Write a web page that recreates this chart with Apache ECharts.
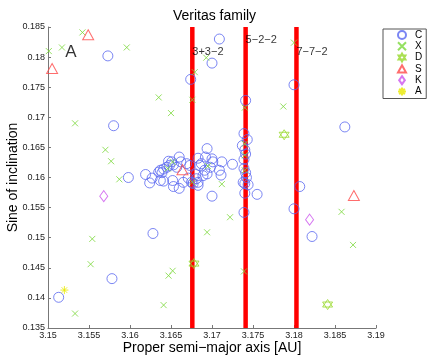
<!DOCTYPE html>
<html>
<head>
<meta charset="utf-8">
<script src="https://cdn.jsdelivr.net/npm/echarts@6/dist/echarts.min.js"></script>
<style>
html, body { margin: 0; padding: 0; background: #fff; }
#chart { width: 429px; height: 359px; }
</style>
</head>
<body>
<div id="chart"></div>
<script>
// taxonomy classes, [proper a (AU), sin i]
var C_PTS = [
  [3.1573,0.1802],[3.1709,0.1830],[3.1700,0.1790],[3.1674,0.1763],[3.1800,0.1754],
  [3.1741,0.1728],[3.1580,0.1686],[3.1862,0.1684],[3.1598,0.1600],[3.1619,0.1605],
  [3.1624,0.1591],[3.1627,0.1599],[3.1641,0.1594],[3.1652,0.1595],[3.1660,0.1582],
  [3.1635,0.1609],[3.1637,0.1612],[3.1639,0.1608],[3.1641,0.1614],[3.1645,0.1617],
  [3.1648,0.1620],[3.1651,0.1626],[3.1653,0.1621],[3.1647,0.1627],[3.1657,0.1617],
  [3.1660,0.1634],[3.1662,0.1626],[3.1669,0.1623],[3.1673,0.1620],[3.1683,0.1632],
  [3.1685,0.1620],[3.1687,0.1623],[3.1691,0.1612],[3.1689,0.1603],[3.1694,0.1606],
  [3.1694,0.1648],[3.1700,0.1631],[3.1701,0.1626],[3.1698,0.1617],[3.1692,0.1634],
  [3.1709,0.1612],[3.1711,0.1604],[3.1712,0.1626],[3.1725,0.1622],[3.1680,0.1605],
  [3.1681,0.1598],[3.1683,0.1592],[3.1683,0.1587],[3.1675,0.1592],[3.1677,0.1590],
  [3.1700,0.1569],[3.1628,0.1507],[3.1578,0.1432],[3.1513,0.1401],[3.1807,0.1585],
  [3.1800,0.1548],[3.1822,0.1502],[3.1739,0.1673],[3.1743,0.1663],[3.1737,0.1653],
  [3.1740,0.1646],[3.1741,0.1639],[3.1739,0.1615],[3.1742,0.1600],[3.1740,0.1590],
  [3.1740,0.1574],[3.1755,0.1572],[3.1738,0.1592],[3.1744,0.1588],[3.1739,0.1630],
  [3.1739,0.1542],[3.1741,0.1608],[3.1671,0.1599],[3.1665,0.1592],[3.1653,0.1585],
  [3.1637,0.1595]
];
var X_PTS = [
  [3.1501,0.1810],[3.1517,0.1816],[3.1542,0.1841],[3.1596,0.1816],[3.1635,0.1733],
  [3.1650,0.1707],[3.1679,0.1775],[3.1693,0.1799],[3.1676,0.1729],[3.1800,0.1824],
  [3.1740,0.1716],[3.1787,0.1718],[3.1533,0.1690],[3.1570,0.1646],[3.1577,0.1627],
  [3.1587,0.1597],[3.1652,0.1626],[3.1646,0.1615],[3.1695,0.1619],[3.1712,0.1589],
  [3.1722,0.1534],[3.1694,0.1509],[3.1554,0.1498],[3.1552,0.1456],[3.1652,0.1445],
  [3.1647,0.1437],[3.1641,0.1388],[3.1533,0.1374],[3.1739,0.1444],[3.1858,0.1543],
  [3.1872,0.1488],[3.1740,0.1656],[3.1740,0.1637],[3.1740,0.1612],[3.1676,0.1592]
];
var D_PTS = [[3.1678,0.1457],[3.1841,0.1389],[3.1788,0.1671]];
var S_PTS = [[3.1549,0.1837],[3.1505,0.1781],[3.1664,0.1613],[3.1873,0.1570]];
var K_PTS = [[3.1568,0.1569],[3.1819,0.1530]];
var A_PTS = [[3.1520,0.1413]];

// mean-motion resonances
var RES_A = [3.1676, 3.1741, 3.1803];
var RES_NAMES = ['3+3\u22122', '5\u22122\u22122', '7\u22127\u22122'];
var RES_LABEL_S = [0.1808, 0.1828, 0.1808];

var PANEL_TAG = [[3.1521, 0.1808, 'A']];

var X_MIN = 3.15, X_MAX = 3.19, X_STEP = 0.005;
var Y_MIN = 0.135, Y_MAX = 0.185, Y_STEP = 0.005;

var FONT = 'Liberation Sans, Arial, sans-serif';

var SYM_CIRCLE = 'path://M0,5A5,5,0,1,0,10,5A5,5,0,1,0,0,5Z';
var SYM_X = 'path://M0,0L10,10M0,10L10,0';
var SYM_HEX = 'path://M5,0L9.33,7.5L0.67,7.5ZM5,10L0.67,2.5L9.33,2.5Z';
var SYM_TRI = 'path://M5,0L10,9L0,9Z';
var SYM_DIA = 'path://M5,0L10,7L5,14L0,7Z';
var SYM_AST = 'path://M5,0L5,10M0,5L10,5M1.5,1.5L8.5,8.5M8.5,1.5L1.5,8.5';

function markSeries(name, pts, symbol, size, color) {
  return {
    name: name,
    type: 'scatter',
    data: pts,
    symbol: symbol,
    symbolSize: size,
    z: 3,
    itemStyle: { color: 'rgba(0,0,0,0)', borderColor: color, borderWidth: 1 },
    emphasis: { disabled: true }
  };
}

var chart = echarts.init(document.getElementById('chart'));

var series = [];
RES_A.forEach(function (a, i) {
  series.push({
    type: 'line',
    data: [[a, Y_MIN], [a, Y_MAX]],
    symbol: 'none',
    z: 1,
    lineStyle: { color: '#ff0000', width: 4.5 },
    silent: true
  });
  series.push({
    type: 'scatter',
    data: [[a, RES_LABEL_S[i], RES_NAMES[i]]],
    symbolSize: 0,
    z: 4,
    silent: true,
    label: {
      show: true, position: 'right', distance: 0,
      formatter: function (p) { return p.value[2]; },
      color: '#000', fontSize: 11, fontFamily: FONT
    }
  });
});
series.push({
  type: 'scatter',
  data: PANEL_TAG,
  symbolSize: 0,
  silent: true,
  label: {
    show: true, position: 'right', distance: 0,
    formatter: function (p) { return p.value[2]; },
    color: '#000', fontSize: 17, fontFamily: FONT
  }
});
series.push(markSeries('C', C_PTS, SYM_CIRCLE, 10, '#5a68f0'));
series.push(markSeries('X', X_PTS, SYM_X, 6, '#7ad83a'));
series.push(markSeries('D', D_PTS, SYM_HEX, 10, '#96d828'));
series.push(markSeries('S', S_PTS, SYM_TRI, [11, 10], '#ff4848'));
series.push(markSeries('K', K_PTS, SYM_DIA, [8, 11], '#cc55ee'));
series.push(markSeries('A', A_PTS, SYM_AST, 8, '#e8e800'));

chart.setOption({
  animation: false,
  backgroundColor: '#fff',
  title: {
    text: 'Veritas family',
    left: 'center',
    top: 4,
    textStyle: { fontSize: 14, fontWeight: 'normal', color: '#000', fontFamily: FONT }
  },
  legend: {
    orient: 'vertical',
    left: 383,
    top: 29,
    padding: [1, 4, 2, 14],
    itemWidth: 8,
    itemHeight: 8,
    itemGap: 1.3,
    borderColor: '#555',
    borderWidth: 1,
    borderRadius: 0,
    data: ['C', 'X', 'D', 'S', 'K', 'A'],
    textStyle: { fontSize: 10, color: '#000', fontFamily: FONT, lineHeight: 10, padding: [0, 0, 0, 4] }
  },
  grid: { left: 48, right: 53, top: 27, bottom: 31, outerBoundsMode: 'none', containLabel: false },
  xAxis: {
    type: 'value',
    min: X_MIN, max: X_MAX, interval: X_STEP,
    name: 'Proper semi\u2212major axis [AU]',
    nameLocation: 'middle',
    nameGap: 13,
    nameMoveOverlap: false,
    nameTextStyle: { fontSize: 14, color: '#000', fontFamily: FONT },
    axisLine: { show: true, onZero: false, lineStyle: { color: '#777' } },
    axisTick: { show: true, inside: true, length: 3, lineStyle: { color: '#777' } },
    axisLabel: { fontSize: 9, color: '#222', margin: 3, fontFamily: FONT },
    splitLine: { show: false }
  },
  yAxis: {
    type: 'value',
    min: Y_MIN, max: Y_MAX, interval: Y_STEP,
    name: 'Sine of inclination',
    nameLocation: 'middle',
    nameGap: 28,
    nameMoveOverlap: false,
    nameTextStyle: { fontSize: 14, color: '#000', fontFamily: FONT },
    axisLine: { show: true, onZero: false, lineStyle: { color: '#777' } },
    axisTick: { show: true, inside: true, length: 3, lineStyle: { color: '#777' } },
    axisLabel: { fontSize: 9, color: '#222', margin: 3, fontFamily: FONT },
    splitLine: { show: false }
  },
  series: series
});
</script>
</body>
</html>
